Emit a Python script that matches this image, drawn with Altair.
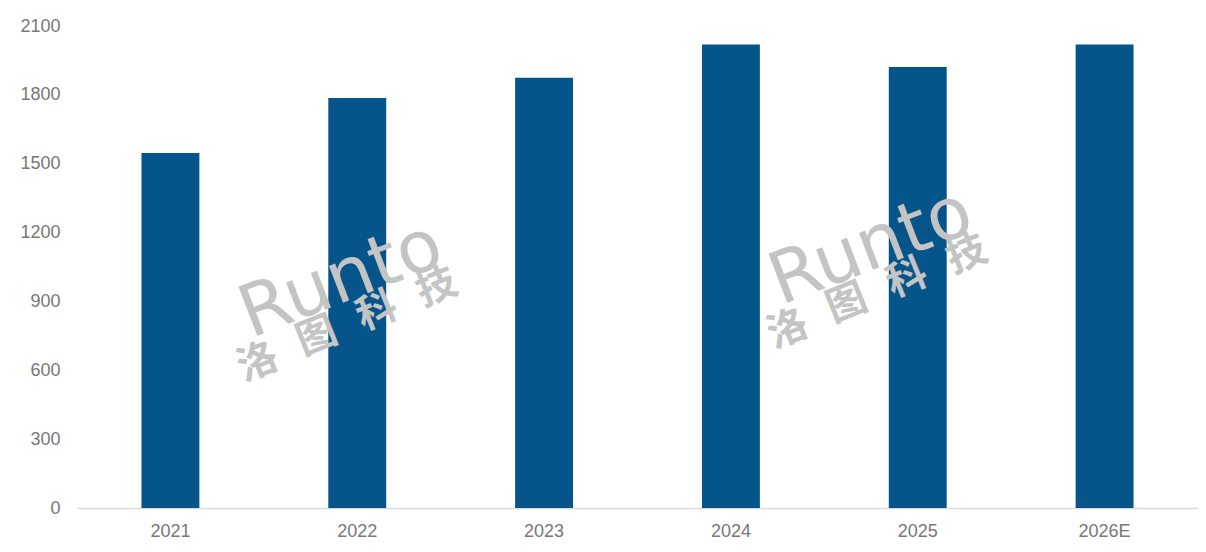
import altair as alt
import pandas as pd

years = ["2021", "2022", "2023", "2024", "2025", "2026E"]
values = [1547, 1786, 1875, 2019, 1921, 2019]
y_ticks = [0, 300, 600, 900, 1200, 1500, 1800, 2100]

BAR = "#06558A"
LABEL = "#787878"
WM = "#c4c4c4"

df = pd.DataFrame({"year": years, "value": values})

bars = alt.Chart(df).mark_bar(color=BAR).encode(
    x=alt.X("year:N", sort=years, title=None,
            scale=alt.Scale(paddingInner=0.69, paddingOuter=0.345),
            axis=alt.Axis(labelAngle=0, ticks=False, domainColor="#d9d9d9",
                          domainWidth=1.5, labelFontSize=18, labelColor=LABEL,
                          labelFont="Liberation Sans", labelPadding=14, grid=False)),
    y=alt.Y("value:Q", title=None,
            scale=alt.Scale(domain=[0, 2100], nice=False),
            axis=alt.Axis(values=y_ticks, format="d", domain=False, ticks=False, grid=False,
                          labelFontSize=18, labelColor=LABEL,
                          labelFont="Liberation Sans", labelPadding=17)),
)


def watermark(dx, dy):
    layers = []
    layers.append(
        alt.Chart(pd.DataFrame({"t": ["Runto"]})).mark_text(
            text="Runto", font="DejaVu Sans", fontSize=72, color=WM,
            angle=339, align="center", baseline="middle"
        ).encode(x=alt.value(264 + dx), y=alt.value(254 + dy))
    )
    chars = ["洛", "图", "科", "技"]
    pos = [(181, 337), (240, 311), (300, 286), (360, 262)]
    for c, (px, py) in zip(chars, pos):
        layers.append(
            alt.Chart(pd.DataFrame({"t": [c]})).mark_text(
                text=c, font="Noto Sans CJK SC", fontWeight="bold", fontSize=40,
                color=WM, angle=338, align="center", baseline="middle"
            ).encode(x=alt.value(px + dx), y=alt.value(py + dy))
        )
    return layers


chart = alt.layer(bars, *watermark(0, 0), *watermark(530, -33)).properties(
    width=1121, height=482,
    padding={"left": 69, "top": 18, "right": 0, "bottom": 36},
    autosize="none",
).configure_view(stroke=None)

chart.save("out.html", embed_options={"renderer": "svg", "actions": False})
